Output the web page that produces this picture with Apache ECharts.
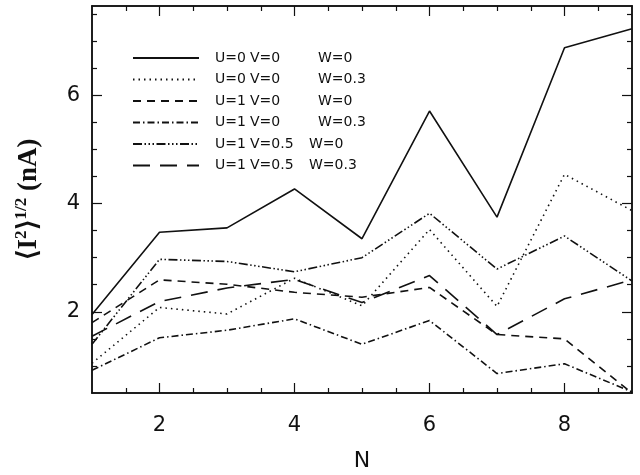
<!DOCTYPE html>
<html>
<head>
<meta charset="utf-8">
<script src="https://cdn.jsdelivr.net/npm/echarts@6/dist/echarts.min.js"></script>
<style>
  html, body { margin: 0; padding: 0; background: #fff; }
  #chart { width: 640px; height: 475px; }
</style>
</head>
<body>
<div id="chart"></div>
<script>
  // N values on the x axis
  var nValues = [1, 2, 3, 4, 5, 6, 7, 8, 9];

  // <I^2>^(1/2) in nA
  var u0v0w0   = [1.95, 3.47, 3.55, 4.27, 3.35, 5.71, 3.75, 6.88, 7.23];
  var u0v0w03  = [1.05, 2.08, 1.96, 2.62, 2.11, 3.52, 2.10, 4.54, 3.87];
  var u1v0w0   = [1.80, 2.59, 2.51, 2.36, 2.27, 2.45, 1.58, 1.50, 0.50];
  var u1v0w03  = [0.92, 1.52, 1.66, 1.87, 1.40, 1.84, 0.86, 1.04, 0.52];
  var u1v05w0  = [1.40, 2.97, 2.93, 2.74, 3.00, 3.82, 2.79, 3.40, 2.57];
  var u1v05w03 = [1.55, 2.19, 2.44, 2.60, 2.17, 2.67, 1.58, 2.24, 2.59];

  var xMajor = [2, 4, 6, 8];
  var xMinor = [1.5, 2.5, 3, 3.5, 4.5, 5, 5.5, 6.5, 7, 7.5, 8.5];
  var yMajor = [2, 4, 6];
  var yMinor = [1, 1.5, 2.5, 3, 3.5, 4.5, 5, 5.5, 6.5, 7, 7.5];

  var seriesDefs = [
    { name: 'U=0 V=0 W=0',     data: u0v0w0,   type: 'solid' },
    { name: 'U=0 V=0 W=0.3',   data: u0v0w03,  type: [1.5, 4] },
    { name: 'U=1 V=0 W=0',     data: u1v0w0,   type: [8, 6] },
    { name: 'U=1 V=0 W=0.3',   data: u1v0w03,  type: [7, 3, 1.5, 3] },
    { name: 'U=1 V=0.5 W=0',   data: u1v05w0,  type: [9, 2.5, 1.5, 2.5, 1.5, 2.5, 1.5, 2.5] },
    { name: 'U=1 V=0.5 W=0.3', data: u1v05w03, type: [17, 10] }
  ];

  var X_MIN = 1, X_MAX = 9, Y_MIN = 0.5, Y_MAX = 7.65;
  var ink = '#111';

  function xAxisDef(pos, ticks, len, showLabel) {
    return {
      type: 'value', position: pos, min: X_MIN, max: X_MAX,
      axisLine: { show: true, onZero: false, lineStyle: { color: ink, width: 1.5 } },
      axisTick: { show: true, inside: true, length: len, customValues: ticks,
                  lineStyle: { color: ink, width: 1.2 } },
      axisLabel: { show: showLabel, customValues: xMajor, margin: 22, color: ink,
                   fontFamily: 'DejaVu Sans', fontSize: 21 },
      splitLine: { show: false }
    };
  }
  function yAxisDef(pos, ticks, len, showLabel) {
    return {
      type: 'value', position: pos, min: Y_MIN, max: Y_MAX,
      axisLine: { show: true, onZero: false, lineStyle: { color: ink, width: 1.5 } },
      axisTick: { show: true, inside: true, length: len, customValues: ticks,
                  lineStyle: { color: ink, width: 1.2 } },
      axisLabel: { show: showLabel, customValues: yMajor, margin: 12, color: ink,
                   fontFamily: 'DejaVu Sans', fontSize: 21 },
      splitLine: { show: false }
    };
  }

  var xAxes = [
    xAxisDef('bottom', xMajor, 10, true),
    xAxisDef('bottom', xMinor, 5, false),
    xAxisDef('top', xMajor, 10, false),
    xAxisDef('top', xMinor, 5, false)
  ];
  xAxes[0].name = 'N';
  xAxes[0].nameLocation = 'middle';
  xAxes[0].nameGap = 57;
  xAxes[0].nameTextStyle = { fontFamily: 'DejaVu Sans', fontSize: 22, color: ink };

  var yAxes = [
    yAxisDef('left', yMajor, 10, true),
    yAxisDef('left', yMinor, 5, false),
    yAxisDef('right', yMajor, 10, false),
    yAxisDef('right', yMinor, 5, false)
  ];
  yAxes[0].name = '{a|\u27E8I}{s|2}{a|\u27E9}{s|1/2}{a| (nA)}';
  yAxes[0].nameLocation = 'middle';
  yAxes[0].nameRotate = 90;
  yAxes[0].nameGap = 47;
  yAxes[0].nameTextStyle = {
    color: ink,
    rich: {
      a: { fontFamily: 'Liberation Serif', fontWeight: 'bold', fontSize: 27, color: ink, lineHeight: 32 },
      s: { fontFamily: 'Liberation Serif', fontWeight: 'bold', fontSize: 17, color: ink,
           lineHeight: 32, verticalAlign: 'top' }
    }
  };

  var chart = echarts.init(document.getElementById('chart'), null, { renderer: 'canvas' });
  chart.setOption({
    backgroundColor: '#fff',
    animation: false,
    grid: { left: 92, right: 8, top: 6, bottom: 82, containLabel: false, outerBoundsMode: 'none' },
    legend: {
      orient: 'vertical', left: 127, top: 46,
      itemWidth: 66, itemHeight: 14, itemGap: 7.5,
      selectedMode: false,
      itemStyle: { color: 'transparent', borderWidth: 0, opacity: 0 },
      data: seriesDefs.map(function (s) { return s.name; }),
      formatter: function (name) {
        var p = name.split(' ');
        var vStyle = p[1].length > 3 ? 'v2' : 'v';
        return '{sp| }{u|' + p[0] + '}{' + vStyle + '|' + p[1] + '}{w|' + p[2] + '}';
      },
      textStyle: {
        color: ink,
        rich: {
          sp: { width: 11, fontSize: 14, lineHeight: 14 },
          u: { width: 35, fontFamily: 'DejaVu Sans', fontSize: 14, lineHeight: 14, color: ink },
          v: { width: 68, fontFamily: 'DejaVu Sans', fontSize: 14, lineHeight: 14, color: ink },
          v2: { width: 59, fontFamily: 'DejaVu Sans', fontSize: 14, lineHeight: 14, color: ink },
          w: { fontFamily: 'DejaVu Sans', fontSize: 14, lineHeight: 14, color: ink }
        }
      }
    },
    xAxis: xAxes,
    yAxis: yAxes,
    series: seriesDefs.map(function (s) {
      return {
        name: s.name,
        type: 'line',
        xAxisIndex: 0,
        yAxisIndex: 0,
        symbol: 'none',
        data: nValues.map(function (n, i) { return [n, s.data[i]]; }),
        lineStyle: { color: ink, width: 1.6, type: s.type },
        itemStyle: { color: ink }
      };
    })
  });
</script>
</body>
</html>
